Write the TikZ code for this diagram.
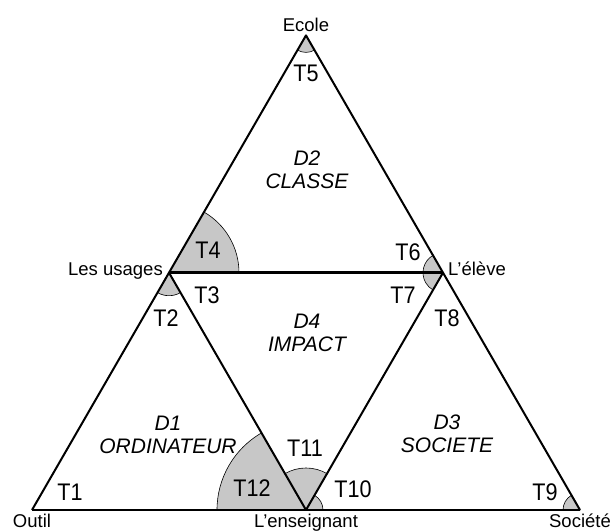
\documentclass[tikz,border=0pt]{standalone}
\usepackage{fontspec}
\setsansfont{Liberation Sans}
\newfontfamily\tfont[FakeStretch=0.9]{Liberation Sans}
\usetikzlibrary{calc}
\newcommand*{\side}{548}
\newcommand*{\hsd }{274}
\newcommand*{\hgt }{474.6}
\newcommand*{\vfs}{\fontsize{18.5}{20}\selectfont}
\newcommand*{\dfs}{\fontsize{21}{23}\selectfont}
\newcommand*{\tfs}{\fontsize{24}{26}\selectfont}

\begin{document}
\begin{tikzpicture}[x=1pt, y=1pt, font=\sffamily,
    sector/.style={fill=black!22, draw=black, line width=0.6pt},
    side/.style={line width=2pt, line join=round},
    base/.style={line width=2.6pt},
    vlab/.style={font=\sffamily\vfs, inner sep=0pt},
    dlab/.style={font=\sffamily\itshape\dfs, align=center, inner sep=0pt},
    tlab/.style={font=\tfont\tfs, inner sep=0pt}]
    \useasboundingbox (-32,-22) rectangle (582,510);
    % vertices
    \coordinate (outil)      at (0,0);
    \coordinate (societe)    at (\side,0);
    \coordinate (ecole)      at (\hsd,\hgt);
    \coordinate (usages)     at ($(outil)!0.5!(ecole)$);
    \coordinate (eleve)      at ($(societe)!0.5!(ecole)$);
    \coordinate (enseignant) at ($(outil)!0.5!(societe)$);
    % angle sectors
    \foreach \v/\a/\b/\r in {ecole/240/300/17, usages/0/60/70, usages/240/300/23,
                             eleve/120/240/20, societe/120/180/17,
                             enseignant/120/180/89, enseignant/60/120/42, enseignant/0/60/17}
        \draw [sector] (\v) -- ++(\a:\r) arc [start angle=\a, end angle=\b, radius=\r] -- cycle;
    % triangles
    \draw [side] (outil) -- (ecole) -- (societe);
    \draw [side] (usages) -- (enseignant) -- (eleve);
    \draw [base] (outil) -- (societe);
    \draw [base] (usages) -- (eleve);
    % vertex names
    \node [vlab, anchor=base]      (lecole)      at ($(ecole)+(0,4)$)        {Ecole};
    \node [vlab, anchor=base east] (lusages)     at ($(usages)+(-6,-3)$)     {Les usages};
    \node [vlab, anchor=base west] (leleve)      at ($(eleve)+(5,-3)$)       {L’élève};
    \node [vlab, anchor=base]      (loutil)      at ($(outil)+(0,-18)$)      {Outil};
    \node [vlab, anchor=base]      (lenseignant) at ($(enseignant)+(0,-18)$) {L’enseignant};
    \node [vlab, anchor=base]      (lsociete)    at ($(societe)+(0,-18)$)    {Société};
    % domains
    \node [dlab] (d2) at (275,340) {D2\\CLASSE};
    \node [dlab] (d4) at (275,177) {D4\\IMPACT};
    \node [dlab] (d1) at (136,75)  {D1\\ORDINATEUR};
    \node [dlab] (d3) at (415,76)  {D3\\SOCIETE};
    % tensions
    \node [tlab] (t1)  at (38,18)   {T1};
    \node [tlab] (t2)  at (134,192) {T2};
    \node [tlab] (t3)  at (175,215) {T3};
    \node [tlab] (t4)  at (176,260) {T4};
    \node [tlab] (t5)  at (274,437) {T5};
    \node [tlab] (t6)  at (376,258) {T6};
    \node [tlab] (t7)  at (371,215) {T7};
    \node [tlab] (t8)  at (415,192) {T8};
    \node [tlab] (t9)  at (513,18)  {T9};
    \node [tlab] (t10) at (321,21)  {T10};
    \node [tlab] (t11) at (273,62)  {T11};
    \node [tlab] (t12) at (220,22)  {T12};
\end{tikzpicture}
\end{document}
